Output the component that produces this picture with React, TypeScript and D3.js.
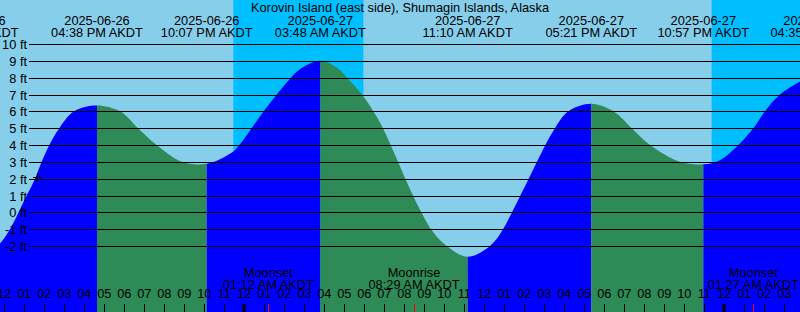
import React from 'react';
import * as d3 from 'd3';

const TITLE = 'Korovin Island (east side), Shumagin Islands, Alaska';
const TZ = 'AKDT';

// Tide extremes (high / low)
const eventTimes = [
  '2025-06-26 10:26', '2025-06-26 16:38', '2025-06-26 22:07', '2025-06-27 03:48',
  '2025-06-27 11:10', '2025-06-27 17:21', '2025-06-27 22:57', '2025-06-28 04:35',
];
const eventHeights = [-2.8, 6.35, 2.88, 9.0, -2.64, 6.45, 2.85, 8.3];
const eventKinds = ['low', 'high', 'low', 'high', 'low', 'high', 'low', 'high'];

// Water level readings taken along the curve (ft)
const curveTimes = [
  '2025-06-26 11:47', '2025-06-26 13:07', '2025-06-26 13:32', '2025-06-26 13:52', '2025-06-26 14:15',
  '2025-06-26 14:45', '2025-06-26 15:29', '2025-06-26 17:47', '2025-06-26 18:41', '2025-06-26 19:37',
  '2025-06-26 20:53', '2025-06-26 23:26', '2025-06-26 23:45', '2025-06-27 00:22', '2025-06-27 00:58',
  '2025-06-27 01:37', '2025-06-27 02:20', '2025-06-27 02:47', '2025-06-27 04:44', '2025-06-27 05:08',
  '2025-06-27 05:53', '2025-06-27 06:27',
  '2025-06-27 06:56', '2025-06-27 07:19', '2025-06-27 07:41', '2025-06-27 08:03', '2025-06-27 08:26',
  '2025-06-27 08:51', '2025-06-27 09:20', '2025-06-27 10:07', '2025-06-27 12:17', '2025-06-27 12:56',
  '2025-06-27 13:23', '2025-06-27 13:48', '2025-06-27 14:13', '2025-06-27 14:38', '2025-06-27 15:03',
  '2025-06-27 15:32', '2025-06-27 16:12', '2025-06-27 18:27', '2025-06-27 19:22', '2025-06-27 20:17',
  '2025-06-27 21:47', '2025-06-27 23:47', '2025-06-28 00:42', '2025-06-28 01:27', '2025-06-28 02:02',
  '2025-06-28 02:47',
];
const curveHeights = [
  -1.85, 1.0, 2.0, 3.0, 4.0,
  5.0, 6.0, 6.0, 5.0, 4.0,
  3.0, 3.6, 4.0, 5.0, 6.0,
  7.0, 8.0, 8.5, 8.5, 8.0,
  7.0, 6.0,
  5.0, 4.0, 3.0, 2.0, 1.0,
  0.0, -1.0, -2.0, -2.0, -1.0,
  0.0, 1.0, 2.0, 3.0, 4.0,
  5.0, 6.0, 6.0, 5.0, 4.0,
  3.0, 3.1, 4.0, 5.0, 6.0,
  7.0,
];

const levelTicks = [10, 9, 8, 7, 6, 5, 4, 3, 2, 1, 0, -1, -2];

const moonTimes = ['2025-06-27 01:12', '2025-06-27 08:29', '2025-06-28 01:27'];
const moonNames = ['Moonset', 'Moonrise', 'Moonset'];

const nightStarts = ['2025-06-26 23:27', '2025-06-27 23:22'];
const nightEnds = ['2025-06-27 05:57', '2025-06-28 05:55'];

const nowTime = '2025-06-26 13:39';
const nowLevel = 2.1;

const viewStart = '2025-06-26 11:47';
const viewEnd = '2025-06-28 03:47';

const W = 800;
const H = 312;
const FONT = '"Liberation Sans", Arial, sans-serif';
const FS = 12.8;

const parse = d3.timeParse('%Y-%m-%d %H:%M');

export default function App() {
  const x = d3.scaleTime().domain([parse(viewStart)!, parse(viewEnd)!]).range([0, W]);
  const y = d3.scaleLinear().domain([-2, 10]).range([246, 44]);

  const pts = [
    ...eventTimes.map((t, i) => ({ t: parse(t)!, v: eventHeights[i] })),
    ...curveTimes.map((t, i) => ({ t: parse(t)!, v: curveHeights[i] })),
  ].sort((a, b) => +a.t - +b.t);

  const area = d3
    .area<{ t: Date; v: number }>()
    .x((d) => x(d.t))
    .y0(H)
    .y1((d) => y(d.v))
    .curve(d3.curveCatmullRom.alpha(0.5));
  const areaPath = area(pts) || '';

  const segs: { x0: number; x1: number; color: string }[] = [];
  for (let i = 0; i < eventTimes.length - 1; i++) {
    const rising = eventKinds[i + 1] === 'high';
    segs.push({
      x0: x(parse(eventTimes[i])!),
      x1: x(parse(eventTimes[i + 1])!),
      color: rising ? '#0000ff' : '#2e8b57',
    });
  }

  const hours = d3.timeHour.range(d3.timeHour.floor(parse(viewStart)!), parse(viewEnd)!);
  const fHour = d3.timeFormat('%I');
  const fDate = d3.timeFormat('%Y-%m-%d');
  const fTime = d3.timeFormat('%I:%M %p');

  const nx = x(parse(nowTime)!);
  const ny = y(nowLevel);

  return (
    <svg
      width={W}
      height={H}
      style={{ position: 'absolute', left: 0, top: 0, display: 'block' }}
      fontFamily={FONT}
      fontSize={FS}
    >
      <defs>
        {segs.map((s, i) => (
          <clipPath id={`seg${i}`} key={i}>
            <rect x={s.x0} y={0} width={s.x1 - s.x0} height={H} />
          </clipPath>
        ))}
      </defs>
      <rect x={0} y={0} width={W} height={H} fill="#87ceeb" />
      {nightStarts.map((s, i) => (
        <rect
          key={i}
          x={x(parse(s)!)}
          y={0}
          width={x(parse(nightEnds[i])!) - x(parse(s)!)}
          height={H}
          fill="#00bfff"
        />
      ))}
      {segs.map((s, i) => (
        <path key={i} d={areaPath} fill={s.color} clipPath={`url(#seg${i})`} />
      ))}

      {levelTicks.map((v) => (
        <g key={v}>
          <line x1={29} x2={W} y1={Math.round(y(v)) + 0.5} y2={Math.round(y(v)) + 0.5} stroke="#000" strokeWidth={1} />
          <text x={27} y={Math.round(y(v)) + 4.5} textAnchor="end" fill="#000">
            {`${v} ft`}
          </text>
        </g>
      ))}

      <text x={W / 2} y={12} textAnchor="middle" fill="#000">{TITLE}</text>
      {eventTimes.map((t, i) => {
        const d = parse(t)!;
        const cx = x(d);
        return (
          <g key={i}>
            <text x={cx} y={25} textAnchor="middle" fill="#000">{fDate(d)}</text>
            <text x={cx} y={36.5} textAnchor="middle" fill="#000">{`${fTime(d)} ${TZ}`}</text>
          </g>
        );
      })}

      {moonTimes.map((t, i) => {
        const d = parse(t)!;
        const cx = x(d);
        return (
          <g key={i}>
            <text x={cx} y={277} textAnchor="middle" fill="#000">{moonNames[i]}</text>
            <text x={cx} y={289} textAnchor="middle" fill="#000">{`${fTime(d)} ${TZ}`}</text>
            <line x1={Math.round(cx) + 0.5} x2={Math.round(cx) + 0.5} y1={304} y2={H} stroke="#ff0000" strokeWidth={1} />
          </g>
        );
      })}

      {hours.map((h, i) => {
        const hx = x(h);
        const midnight = h.getHours() === 0;
        return (
          <g key={i}>
            <text x={hx} y={298} textAnchor="middle" fill="#000">{fHour(h)}</text>
            <line
              x1={Math.round(hx) + (midnight ? 0 : 0.5)}
              x2={Math.round(hx) + (midnight ? 0 : 0.5)}
              y1={304}
              y2={H}
              stroke="#000"
              strokeWidth={midnight ? 3 : 1}
            />
          </g>
        );
      })}

      <g stroke="#000" strokeWidth={1}>
        <line x1={Math.round(nx) - 4} x2={Math.round(nx) + 5} y1={Math.round(ny) + 0.5} y2={Math.round(ny) + 0.5} />
        <line x1={Math.round(nx) + 0.5} x2={Math.round(nx) + 0.5} y1={Math.round(ny) - 4} y2={Math.round(ny) + 5} />
      </g>
    </svg>
  );
}
